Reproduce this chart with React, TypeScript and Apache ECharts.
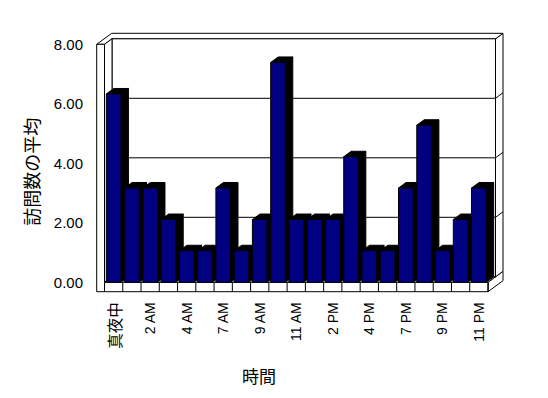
import React, { useEffect, useRef } from "react";
import * as echarts from "echarts";

const categories = [
  "真夜中", "1 AM", "2 AM", "3 AM", "4 AM", "5 AM", "7 AM", "8 AM", "9 AM", "10 AM", "11 AM",
  "1 PM", "2 PM", "3 PM", "4 PM", "6 PM", "7 PM", "8 PM", "9 PM", "10 PM", "11 PM",
];
const visitAverages = [
  6.33, 3.17, 3.17, 2.11, 1.06, 1.06, 3.17, 1.06, 2.11, 7.39, 2.11,
  2.11, 2.11, 4.22, 1.06, 1.06, 3.17, 5.28, 1.06, 2.11, 3.17,
];
const yTicks = [0, 2, 4, 6, 8];
const xTitle = "時間";
const yTitle = "訪問数の平均";

const DX = 7.5;
const DY = -5.5;
const LW = 7.8;
const FT = 9.4;
const LINE = { stroke: "#000", lineWidth: 1 };

export default function App() {
  const ref = useRef<HTMLDivElement>(null);
  useEffect(() => {
    if (!ref.current) return;
    const chart = echarts.init(ref.current, undefined, { renderer: "svg" });
    const frameItem = (params: any, api: any) => {
      const cs = params.coordSys;
      const x0 = cs.x, x1 = cs.x + cs.width, yT = cs.y, yB = cs.y + cs.height;
      const bw = api.size([1, 0])[0];
      const children: any[] = [];
      const poly = (pts: number[][]) => ({
        type: "polygon",
        shape: { points: pts },
        style: { fill: "#fff", ...LINE },
      });
      children.push(poly([[x1, yB], [x1 + 2 * DX, yB + 2 * DY], [x1 + 2 * DX, yB + 2 * DY + FT], [x1, yB + FT]]));
      children.push(poly([[x1 + DX, yT + DY], [x1 + 2 * DX, yT + 2 * DY], [x1 + 2 * DX, yB + 2 * DY], [x1 + DX, yB + DY]]));
      children.push(poly([[x0 - LW, yT], [x0, yT], [x0 + DX, yT + DY], [x1 + DX, yT + DY], [x1 + 2 * DX, yT + 2 * DY], [x0 - LW + 2 * DX, yT + 2 * DY]]));
      children.push({ type: "rect", shape: { x: x0 + DX, y: yT + DY, width: x1 - x0, height: yB - yT }, style: { fill: "#fff", ...LINE } });
      children.push(poly([[x0, yT], [x0 + DX, yT + DY], [x0 + DX, yB + DY], [x0, yB]]));
      children.push(poly([[x0, yB], [x1, yB], [x1 + DX, yB + DY], [x0 + DX, yB + DY]]));
      children.push(poly([[x0 - LW, yT], [x0, yT], [x0, yB], [x1, yB], [x1, yB + FT], [x0 - LW, yB + FT]]));
      yTicks.forEach((v) => {
        if (v === yTicks[0] || v === yTicks[yTicks.length - 1]) return;
        const y = api.coord([0, v])[1];
        children.push({
          type: "polyline",
          shape: { points: [[x0 + DX, y + DY], [x1 + DX, y + DY], [x1 + 2 * DX, y + 2 * DY]] },
          style: { fill: null, ...LINE },
        });
      });
      for (let i = 0; i <= categories.length; i++) {
        const x = api.coord([i, 0])[0] - bw / 2;
        children.push({ type: "line", shape: { x1: x, y1: yB, x2: x, y2: yB + FT }, style: LINE });
      }
      return { type: "group", children };
    };
    const barItem = (params: any, api: any) => {
      const i = api.value(0);
      const v = api.value(1);
      const top = api.coord([i, v]);
      const bot = api.coord([i, 0]);
      const bw = api.size([1, 0])[0];
      const w = bw * 0.8;
      const xl = top[0] - w / 2;
      const xr = top[0] + w / 2;
      const yt = top[1];
      const yb = bot[1];
      return {
        type: "group",
        children: [
          { type: "polygon", shape: { points: [[xr, yt], [xr + DX, yt + DY], [xr + DX, yb + DY], [xr, yb]] }, style: { fill: "#000", stroke: "#000", lineWidth: 1 } },
          { type: "polygon", shape: { points: [[xl, yt], [xl + DX, yt + DY], [xr + DX, yt + DY], [xr, yt]] }, style: { fill: "#000", stroke: "#000", lineWidth: 1 } },
          { type: "rect", shape: { x: xl, y: yt, width: w, height: yb - yt }, style: { fill: "#000080", stroke: "#000", lineWidth: 1 } },
        ],
      };
    };
    chart.setOption({
      animation: false,
      backgroundColor: "#fff",
      grid: { left: 104.5, top: 44.3, width: 383.5, height: 238 },
      xAxis: {
        type: "category",
        data: categories,
        axisLine: { show: false },
        axisTick: { show: false },
        splitLine: { show: false },
        axisLabel: {
          interval: 1,
          rotate: 90,
          margin: 20,
          color: "#000",
          fontSize: 14,
          fontFamily: "Liberation Sans, Noto Sans CJK JP, sans-serif",
          formatter: (val: string) => (/[^\x00-\x7f]/.test(val) ? `{cjk|${val}}` : val),
          rich: { cjk: { fontSize: 15.5, fontFamily: "Noto Sans CJK JP", color: "#000", fontWeight: "normal" } },
        },
      },
      yAxis: {
        type: "value",
        min: 0,
        max: 8,
        interval: 2,
        axisLine: { show: false },
        axisTick: { show: false },
        splitLine: { show: false },
        axisLabel: {
          margin: 21.5,
          color: "#000",
          fontSize: 15,
          fontFamily: "Liberation Sans, Arial, sans-serif",
          formatter: (v: number) => v.toFixed(2),
          padding: [3, 0, 0, 0],
        },
      },
      graphic: [
        {
          type: "text",
          x: 259,
          y: 375,
          style: { text: xTitle, fontSize: 17, fontFamily: "Noto Sans CJK JP", fill: "#000", align: "center", verticalAlign: "middle" },
        },
        {
          type: "text",
          x: 30.8,
          y: 171.7,
          rotation: Math.PI / 2,
          style: { text: yTitle, fontSize: 18, fontFamily: "Noto Sans CJK JP", fill: "#000", align: "center", verticalAlign: "middle" },
        },
      ],
      series: [
        { type: "custom", renderItem: frameItem, data: [[0, 0]], clip: false, silent: true, z: 1 },
        { type: "custom", renderItem: barItem, data: visitAverages.map((v, i) => [i, v]), clip: false, z: 2 },
      ],
    });
    return () => chart.dispose();
  }, []);
  return <div ref={ref} style={{ position: "absolute", left: 0, top: 0, width: 548, height: 398 }} />;
}
